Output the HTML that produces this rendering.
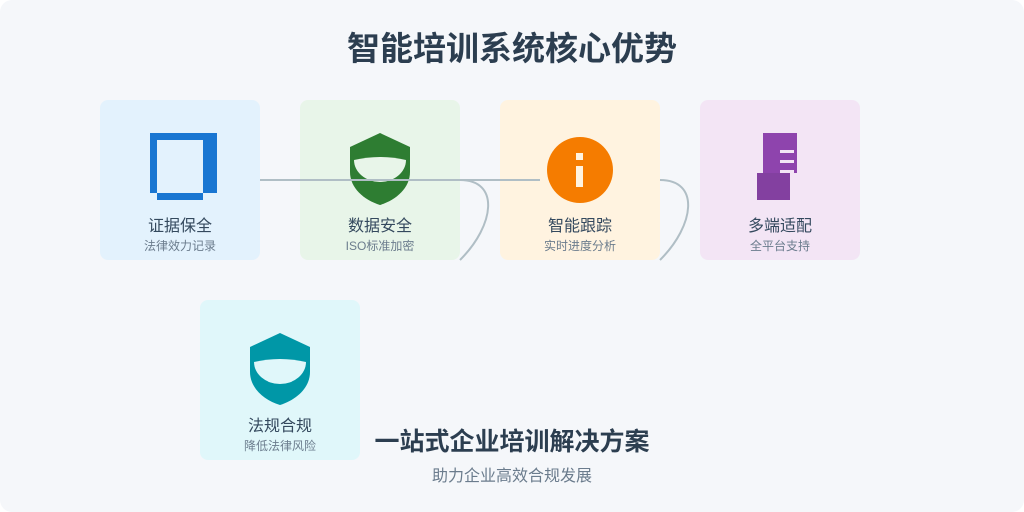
<!DOCTYPE html>
<html><head><meta charset="utf-8"><style>
html,body{margin:0;padding:0;background:#fff}
svg{display:block}
text{font-family:"Liberation Sans","Noto Sans CJK SC",sans-serif}
</style></head><body>
<svg width="1024" height="512" viewBox="0 0 1024 512" xmlns="http://www.w3.org/2000/svg">
<rect x="0" y="0" width="1024" height="512" rx="12" fill="#f5f7fa"/>
<text x="512" y="60" text-anchor="middle" font-size="33" font-weight="bold" fill="#2c3e50">智能培训系统核心优势</text>

<rect x="100" y="100" width="160" height="160" rx="8" fill="#e3f2fd"/>
<rect x="300" y="100" width="160" height="160" rx="8" fill="#e8f5e9"/>
<rect x="500" y="100" width="160" height="160" rx="8" fill="#fff3e0"/>
<rect x="700" y="100" width="160" height="160" rx="8" fill="#f3e5f5"/>
<rect x="200" y="300" width="160" height="160" rx="8" fill="#e0f7fa"/>

<!-- icon 1 -->
<rect x="150" y="133" width="67" height="60" fill="#1976d2"/>
<rect x="157" y="140" width="46" height="53" fill="#e3f2fd"/>
<rect x="157" y="193" width="46" height="7" fill="#1976d2"/>

<!-- icon 2 shield -->
<path d="M380,133 L410,147 L410,172 C410,188 396,200 380,205 C364,200 350,188 350,172 L350,147 Z" fill="#2e7d32"/>
<path d="M354,160 Q380,154 406,160 A26,22 0 0 1 354,160 Z" fill="#e8f5e9"/>

<!-- icon 3 -->
<circle cx="580" cy="170" r="33" fill="#f57c00"/>
<rect x="576" y="153" width="7" height="7" fill="#fff3e0"/>
<rect x="576" y="166" width="7" height="21" fill="#fff3e0"/>

<!-- icon 4 -->
<rect x="763" y="133" width="34" height="40" fill="#8e44ad"/>
<rect x="780" y="150" width="14" height="3" fill="#f3e5f5"/>
<rect x="780" y="160" width="14" height="3" fill="#f3e5f5"/>
<rect x="780" y="170" width="14" height="3" fill="#f3e5f5"/>
<rect x="757" y="173" width="33" height="27" fill="#8340a0"/>

<!-- icon 5 shield -->
<path d="M280,333 L310,347 L310,372 C310,388 296,400 280,405 C264,400 250,388 250,372 L250,347 Z" fill="#0097a7"/>
<path d="M254,362 Q280,356 306,362 A26,22 0 0 1 254,362 Z" fill="#e0f7fa"/>

<!-- connectors -->
<path d="M260,180 L540,180" stroke="#b0bec5" stroke-width="2" fill="none"/>
<path d="M460,180 C500,180 495,225 460,260" stroke="#b0bec5" stroke-width="2" fill="none"/>
<path d="M660,180 C700,180 695,225 660,260" stroke="#b0bec5" stroke-width="2" fill="none"/>

<g text-anchor="middle">
<text x="180" y="231" font-size="16" fill="#34495e">证据保全</text>
<text x="180" y="250" font-size="12" fill="#6b7c8d">法律效力记录</text>
<text x="380" y="231" font-size="16" fill="#34495e">数据安全</text>
<text x="380" y="250" font-size="12" fill="#6b7c8d">ISO标准加密</text>
<text x="580" y="231" font-size="16" fill="#34495e">智能跟踪</text>
<text x="580" y="250" font-size="12" fill="#6b7c8d">实时进度分析</text>
<text x="780" y="231" font-size="16" fill="#34495e">多端适配</text>
<text x="780" y="250" font-size="12" fill="#6b7c8d">全平台支持</text>
<text x="280" y="431" font-size="16" fill="#34495e">法规合规</text>
<text x="280" y="450" font-size="12" fill="#6b7c8d">降低法律风险</text>
<text x="512" y="450" font-size="25" font-weight="bold" fill="#2c3e50">一站式企业培训解决方案</text>
<text x="512" y="481" font-size="16" fill="#6b7c8d">助力企业高效合规发展</text>
</g>
</svg>
</body></html>
